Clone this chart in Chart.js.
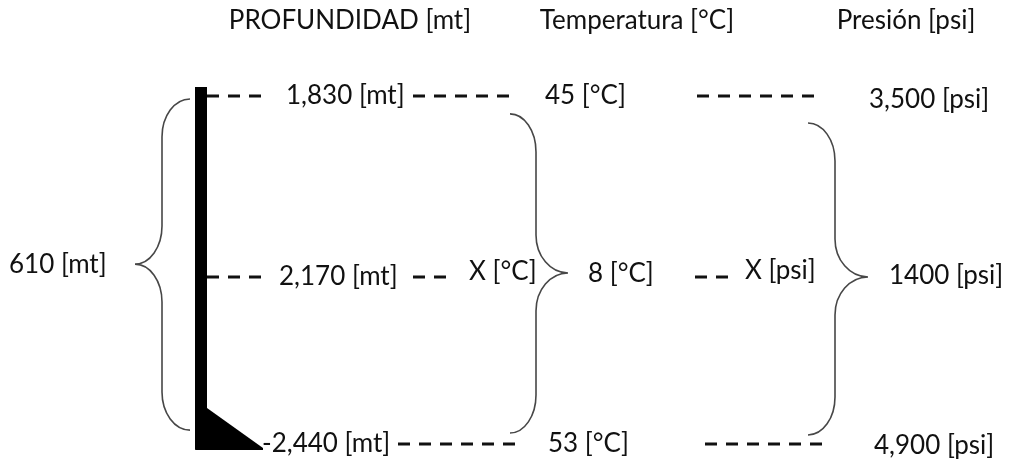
<!DOCTYPE html>
<html>
<head>
<meta charset="utf-8">
<script src="https://cdn.jsdelivr.net/npm/chart.js@4.4.1/dist/chart.umd.min.js"></script>
<style>
  html, body { margin: 0; padding: 0; background: #fff; }
  #wrap { width: 1023px; height: 464px; }
</style>
</head>
<body>
<div id="wrap"><canvas id="diagram" width="1023" height="464"></canvas></div>
<script>
// encabezados de columna
const headers = ["PROFUNDIDAD [mt]", "Temperatura [°C]", "Presión [psi]"];
// niveles, de arriba hacia abajo
const depthLabels = ["1,830 [mt]", "2,170 [mt]", "-2,440 [mt]"];
const tempLabels = ["45 [°C]", "X [°C]", "53 [°C]"];
const pressureLabels = ["3,500 [psi]", "X [psi]", "4,900 [psi]"];
// diferencia entre el nivel de arriba y el de abajo
const diffLabels = ["610 [mt]", "8 [°C]", "1400 [psi]"];

// ---- disposicion (no son datos) ----
const FONT = "Lato, 'Open Sans', sans-serif";
const rowPos = [0, 1.04, 2];          // posicion de cada nivel en el eje y
const headerX = [350, 637, 906];      // centro de cada encabezado
const depthX = [286, 279, 262];
const tempX = [545, 469, 548];
const pressureX = [869, 745, 874];
const tempDy = [0, -5, 0];
const pressureDy = [4, -6, 2];
const diffPos = [[9, 0.97], [588, 1.02], [889, 1.03]];
const dashX = [
    [[207, 265], [413, 515], [697, 818]],
    [[207, 262], [413, 452], [695, 732]],
    [[398, 520], [705, 822]],
];
const dashRow = [0, 1, 2];
const wellX = 201;
// llaves: extremo, tramo vertical, punta (x) y arriba/abajo/punta (fila)
const braces = [
    { xe: 190, xm: 162, xt: 135, top: 0.017, bottom: 1.92, tip: 0.966 },
    { xe: 510, xm: 536, xt: 568, top: 0.103, bottom: 1.937, tip: 1.017 },
    { xe: 808, xm: 835, xt: 868, top: 0.155, bottom: 1.948, tip: 1.04 },
];

const yMin = -96 / 174;
const yMax = yMin + 464 / 174;

const datasets = [];

// pozo
datasets.push({
    data: [{ x: wellX, y: -0.052 }, { x: wellX, y: 2.029 }],
    borderColor: "#000",
    borderWidth: 12,
    pointRadius: 0,
});

// lineas punteadas
dashX.forEach((segs, i) => {
    segs.forEach(([a, b]) => {
        datasets.push({
            data: [{ x: a, y: rowPos[dashRow[i]] }, { x: b, y: rowPos[dashRow[i]] }],
            borderColor: "#111",
            borderWidth: 3,
            borderDash: [12, 9],
            pointRadius: 0,
        });
    });
});

const drawBrace = (ctx, xe, xm, xt, yTop, yBot, yTip, r) => {
    const k = 0.5523;
    ctx.beginPath();
    ctx.moveTo(xe, yTop);
    ctx.bezierCurveTo(xe - (xe - xm) * k, yTop, xm, yTop + r * (1 - k), xm, yTop + r);
    ctx.lineTo(xm, yTip - r);
    ctx.bezierCurveTo(xm, yTip - r * (1 - k), xt - (xt - xm) * k, yTip, xt, yTip);
    ctx.bezierCurveTo(xt - (xt - xm) * k, yTip, xm, yTip + r * (1 - k), xm, yTip + r);
    ctx.lineTo(xm, yBot - r);
    ctx.bezierCurveTo(xm, yBot - r * (1 - k), xe - (xe - xm) * k, yBot, xe, yBot);
    ctx.stroke();
};

const diagramPlugin = {
    id: "diagram",
    afterDatasetsDraw(chart) {
        const { ctx } = chart;
        const xs = chart.scales.x;
        const ys = chart.scales.y;
        const px = (v) => xs.getPixelForValue(v);
        const py = (v) => ys.getPixelForValue(v);

        ctx.save();

        // base del pozo (triangulo)
        const wellMeta = chart.getDatasetMeta(0);
        const bottom = wellMeta.data[1];
        ctx.fillStyle = "#000";
        ctx.beginPath();
        ctx.moveTo(bottom.x + 6, bottom.y - 41);
        ctx.lineTo(bottom.x + 62, bottom.y - 1);
        ctx.lineTo(bottom.x + 62, bottom.y + 1);
        ctx.lineTo(bottom.x - 6, bottom.y + 1);
        ctx.closePath();
        ctx.fill();

        // llaves
        ctx.strokeStyle = "#474747";
        ctx.lineWidth = 1.6;
        braces.forEach((b) => {
            drawBrace(ctx, px(b.xe), px(b.xm), px(b.xt), py(b.top), py(b.bottom), py(b.tip), 38);
        });

        // textos
        ctx.fillStyle = "#111";
        ctx.textBaseline = "middle";
        ctx.font = "26px " + FONT;
        ctx.textAlign = "center";
        headers.forEach((t, i) => ctx.fillText(t, px(headerX[i]), 21));

        ctx.textAlign = "left";
        depthLabels.forEach((t, i) => ctx.fillText(t, px(depthX[i]), py(rowPos[i])));
        tempLabels.forEach((t, i) => ctx.fillText(t, px(tempX[i]), py(rowPos[i]) + tempDy[i]));
        pressureLabels.forEach((t, i) => ctx.fillText(t, px(pressureX[i]), py(rowPos[i]) + pressureDy[i]));
        diffLabels.forEach((t, i) => ctx.fillText(t, px(diffPos[i][0]), py(diffPos[i][1])));

        ctx.restore();
    },
};

const ctx = document.getElementById("diagram").getContext("2d");

new Chart(ctx, {
    type: "line",
    data: { datasets },
    options: {
        responsive: false,
        animation: false,
        events: [],
        layout: { padding: 0 },
        plugins: {
            legend: { display: false },
            tooltip: { enabled: false },
        },
        elements: { line: { tension: 0 } },
        scales: {
            x: { type: "linear", min: 0, max: 1023, display: false },
            y: { type: "linear", reverse: true, min: yMin, max: yMax, display: false },
        },
    },
    plugins: [diagramPlugin],
});
</script>
</body>
</html>
